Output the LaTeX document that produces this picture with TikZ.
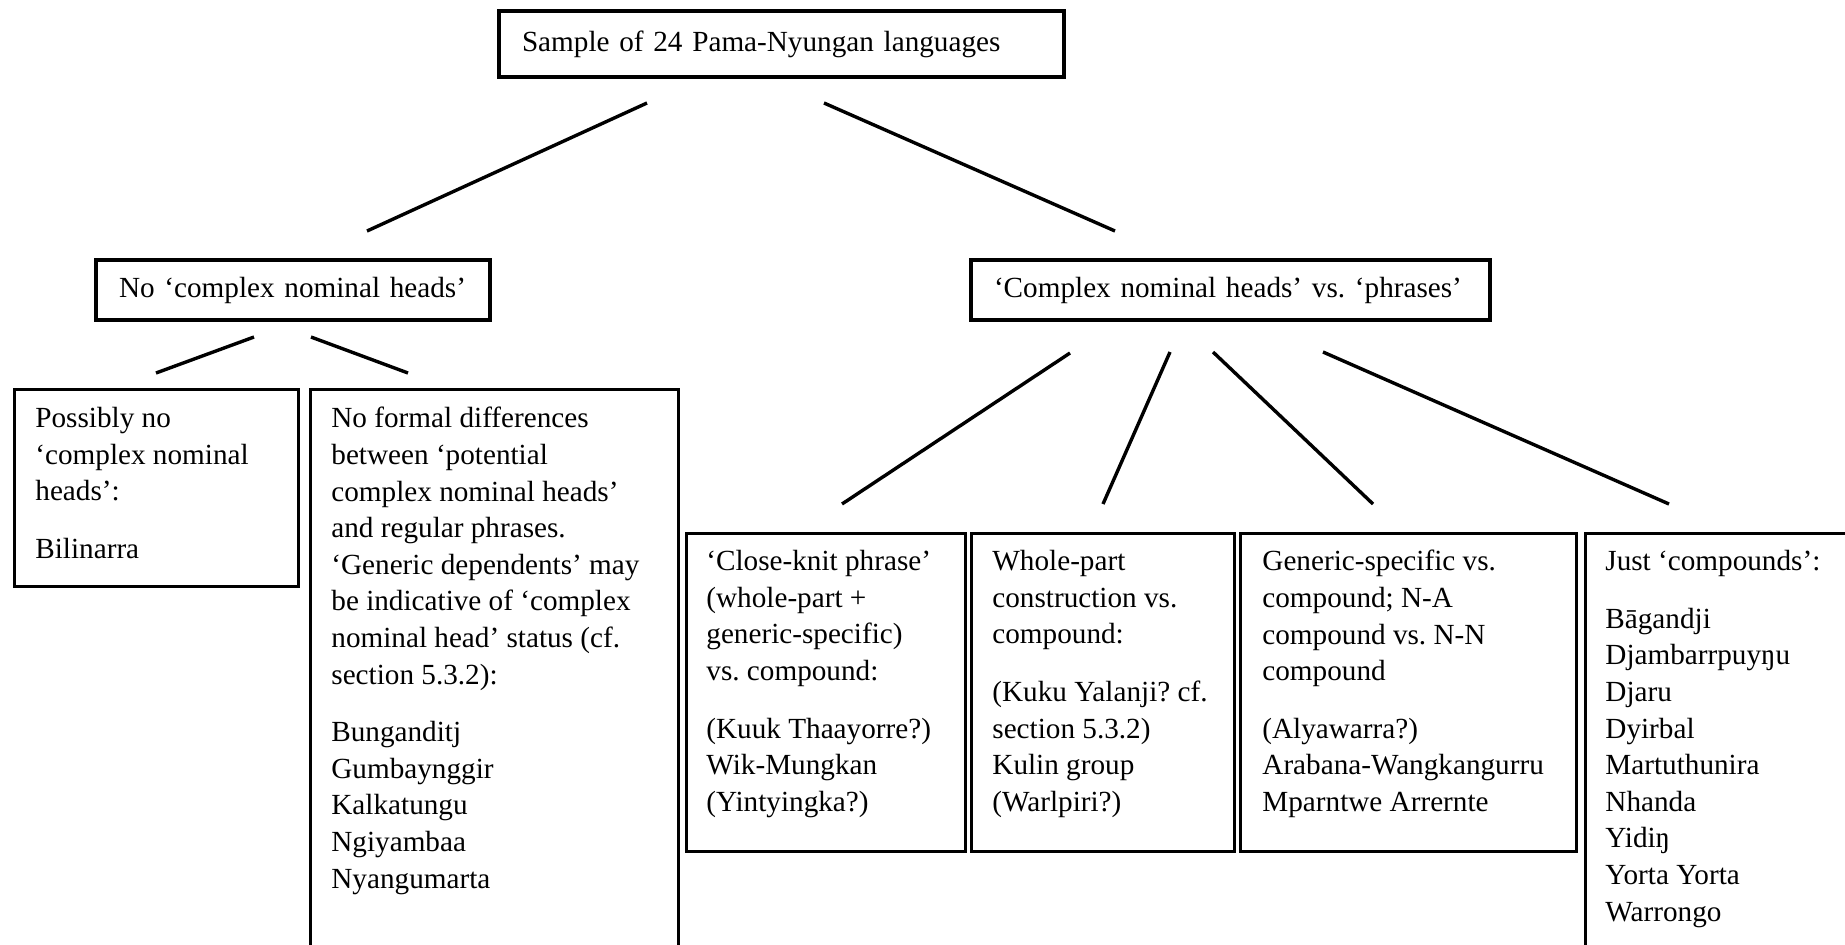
\documentclass[tikz,border=0pt]{standalone}
\usepackage{fontspec}
\setmainfont{Liberation Serif}
\usepackage{tikz}
\frenchspacing

\tikzset{
    every node/.style = {font = \fontsize{14.6pt}{18.3pt}\selectfont},
    box/.style = {draw, line width = 1.7pt, inner sep = 0pt},
    headbox/.style = {box, align = left, inner xsep = 11.5pt, inner ysep = 0pt},
    boxtext/.style = {anchor = north west, align = left, inner sep = 0pt},
    branch/.style = {line width = 1.7pt}
}

\begin{document}
\begin{tikzpicture}[x = 0.5pt, y = -0.5pt]
        \useasboundingbox (0, 0) rectangle (1845, 944);
        \clip (0, 0) rectangle (1845, 944);

        % upper boxes
        \node [headbox, text width = 259.5pt, minimum height = 33pt] (root) at (781.5, 44) {Sample of 24 Pama-Nyungan languages};
        \node [headbox, text width = 174pt, minimum height = 30pt] (nochn) at (293, 290) {No ‘complex nominal heads’};
        \node [headbox, text width = 236.5pt, minimum height = 30pt] (chn) at (1230.5, 290) {‘Complex nominal heads’ vs. ‘phrases’};

        % lower boxes
        \node [box, anchor = north west, minimum width = 142pt, minimum height = 98.5pt] (poss) at (13, 388) {};
        \node [box, anchor = north west, minimum width = 184pt, minimum height = 306pt] (nofd) at (309, 388) {};
        \node [box, anchor = north west, minimum width = 139.5pt, minimum height = 159pt] (close) at (685, 532) {};
        \node [box, anchor = north west, minimum width = 131.5pt, minimum height = 159pt] (whole) at (970, 532) {};
        \node [box, anchor = north west, minimum width = 168pt, minimum height = 159pt] (gensp) at (1239, 532) {};
        \node [box, anchor = north west, minimum width = 200pt, minimum height = 306pt] (just) at (1584, 532) {};

        \node [boxtext] (poss-txt) at (35, 407) {Possibly no\\ ‘complex nominal\\ heads’:\\[10.5pt] Bilinarra};
        \node [boxtext] (nofd-txt) at (331, 407) {No formal differences\\ between ‘potential\\ complex nominal heads’\\ and regular phrases.\\ ‘Generic dependents’ may\\ be indicative of ‘complex\\ nominal head’ status (cf.\\ section 5.3.2):\\[10.5pt] Bunganditj\\ Gumbaynggir\\ Kalkatungu\\ Ngiyambaa\\ Nyangumarta};
        \node [boxtext] (close-txt) at (706, 550) {‘Close-knit phrase’\\ (whole-part +\\ generic-specific)\\ vs. compound:\\[10.5pt] (Kuuk Thaayorre?)\\ Wik-Mungkan\\ (Yintyingka?)};
        \node [boxtext] (whole-txt) at (992, 550) {Whole-part\\ construction vs.\\ compound:\\[10.5pt] (Kuku Yalanji? cf.\\ section 5.3.2)\\ Kulin group\\ (Warlpiri?)};
        \node [boxtext] (gensp-txt) at (1262, 550) {Generic-specific vs.\\ compound; N-A\\ compound vs. N-N\\ compound\\[10.5pt] (Alyawarra?)\\ Arabana-Wangkangurru\\ Mparntwe Arrernte};
        \node [boxtext] (just-txt) at (1605, 550) {Just ‘compounds’:\\[10.5pt] Bāgandji\\ Djambarrpuyŋu\\ Djaru\\ Dyirbal\\ Martuthunira\\ Nhanda\\ Yidiŋ\\ Yorta Yorta\\ Warrongo};

        % free ends of the branches
        \coordinate (root-l) at (647, 103);
        \coordinate (root-r) at (824, 103);
        \coordinate (nochn-in) at (367, 231);
        \coordinate (chn-in) at (1115, 231);
        \coordinate (nochn-l) at (254, 337);
        \coordinate (nochn-r) at (311, 337);
        \coordinate (poss-in) at (156, 373);
        \coordinate (nofd-in) at (408, 373);
        \coordinate (chn-1) at (1070, 353);
        \coordinate (chn-2) at (1170, 352);
        \coordinate (chn-3) at (1213, 352);
        \coordinate (chn-4) at (1323, 352);
        \coordinate (close-in) at (842, 504);
        \coordinate (whole-in) at (1103, 504);
        \coordinate (gensp-in) at (1373, 504);
        \coordinate (just-in) at (1669, 504);

        \draw [branch] (root-l) -- (nochn-in);
        \draw [branch] (root-r) -- (chn-in);
        \draw [branch] (nochn-l) -- (poss-in);
        \draw [branch] (nochn-r) -- (nofd-in);
        \draw [branch] (chn-1) -- (close-in);
        \draw [branch] (chn-2) -- (whole-in);
        \draw [branch] (chn-3) -- (gensp-in);
        \draw [branch] (chn-4) -- (just-in);
    \end{tikzpicture}
\end{document}
